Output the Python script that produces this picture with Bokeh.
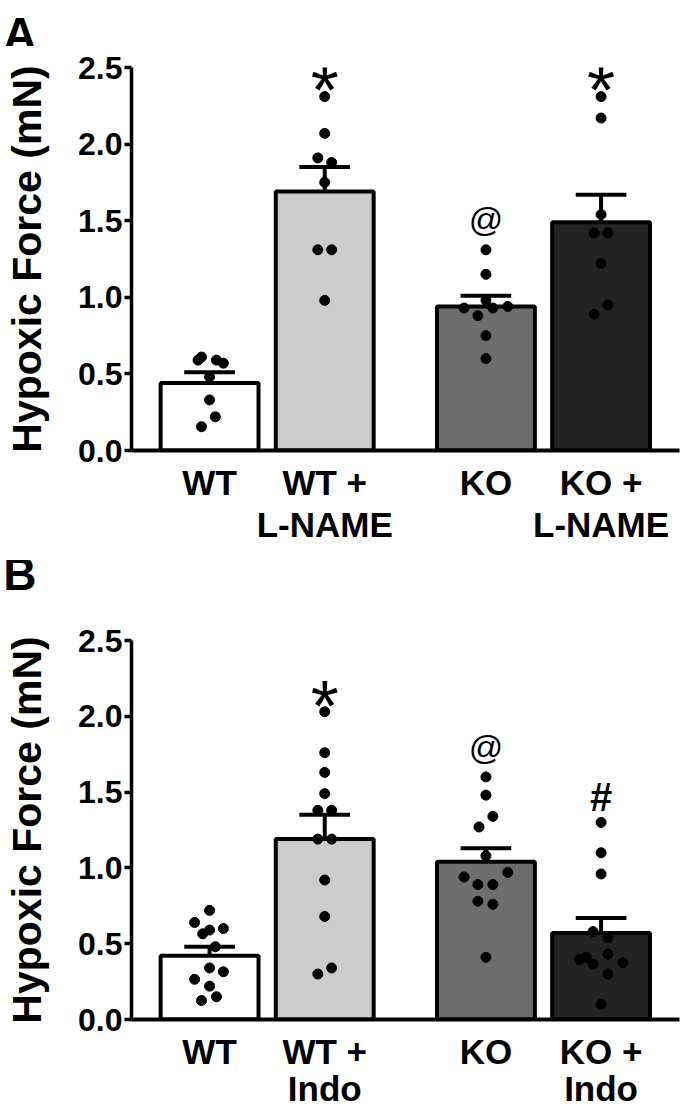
from bokeh.plotting import figure
from bokeh.layouts import column
from bokeh.models import Range1d, FixedTicker, PrintfTickFormatter
from bokeh.embed import file_html
from bokeh.resources import INLINE
from bokeh.core.properties import value

# ---------------- data ----------------
labels_A = ["WT", "WT +\nL-NAME", "KO", "KO +\nL-NAME"]
labels_B = ["WT", "WT +\nIndo", "KO", "KO +\nIndo"]
bar_colors = ["#ffffff", "#cccccc", "#6e6e6e", "#232323"]

mean_A = [0.44, 1.69, 0.94, 1.49]
sem_A = [0.07, 0.16, 0.07, 0.18]
mean_B = [0.42, 1.19, 1.04, 0.57]
sem_B = [0.06, 0.16, 0.09, 0.10]

pts_A = [
    [0.59, 0.61, 0.59, 0.57, 0.48, 0.33, 0.22, 0.155],
    [2.31, 2.07, 1.91, 1.88, 1.75, 1.31, 1.31, 0.98],
    [1.31, 1.15, 0.98, 0.93, 0.93, 0.94, 0.88, 0.75, 0.60],
    [2.31, 2.17, 1.54, 1.42, 1.42, 1.22, 0.89, 0.95],
]
jit_A = [
    [-0.10, -0.07, 0.06, 0.12, 0.0, 0.0, 0.05, -0.07],
    [0.0, 0.0, -0.06, 0.06, 0.0, -0.06, 0.06, 0.0],
    [0.0, 0.0, 0.0, -0.19, 0.06, 0.19, -0.07, 0.0, 0.0],
    [0.0, 0.0, 0.0, -0.06, 0.06, 0.0, -0.06, 0.06],
]
pts_B = [
    [0.72, 0.64, 0.59, 0.60, 0.565, 0.48, 0.34, 0.265, 0.315, 0.22, 0.15, 0.125],
    [2.03, 1.76, 1.63, 1.49, 1.38, 1.38, 1.19, 1.19, 0.92, 0.68, 0.34, 0.30],
    [1.60, 1.48, 1.34, 1.27, 1.08, 0.97, 0.94, 0.89, 0.89, 0.78, 0.76, 0.41],
    [1.30, 1.10, 0.96, 0.58, 0.54, 0.43, 0.395, 0.41, 0.365, 0.375, 0.30, 0.10],
]
jit_B = [
    [0.0, -0.13, 0.0, 0.12, -0.06, 0.05, 0.0, -0.13, 0.12, 0.0, 0.06, -0.07],
    [0.0, 0.0, 0.0, 0.0, -0.06, 0.06, -0.06, 0.06, 0.0, 0.0, 0.06, -0.06],
    [0.0, 0.0, 0.06, -0.06, 0.0, 0.19, -0.19, -0.07, 0.06, -0.07, 0.06, 0.0],
    [0.0, 0.0, 0.0, -0.07, 0.06, 0.06, -0.19, -0.13, -0.07, 0.19, 0.06, 0.0],
]
sig_A = ["", "*", "@", "*"]
sig_B = ["", "*", "@", "#"]

x_pos = [1.0, 2.0, 3.4, 4.4]
y_ticks = [0.0, 0.5, 1.0, 1.5, 2.0, 2.5]

FONT = "Liberation Sans"
SIG_STYLE = {"*": ("72px", "normal", 0.04),
             "@": ("34px", "normal", 0.20),
             "#": ("40px", "bold", 0.17)}

FRAME_H = 383
W = 680
LEFT = 127


def make_header(letter, height, center_from_top):
    # panel letter drawn as the single tick label of an otherwise invisible left axis
    h = figure(width=W, height=height, x_range=Range1d(0, 1), y_range=Range1d(0, height),
               output_backend="svg", toolbar_location=None, x_axis_type=None,
               min_border_left=LEFT, min_border_right=1, min_border_top=0, min_border_bottom=0)
    h.outline_line_color = None
    h.xgrid.grid_line_color = None
    h.ygrid.grid_line_color = None
    tick = height - center_from_top
    h.yaxis.ticker = FixedTicker(ticks=[tick])
    h.yaxis.major_label_overrides = {tick: letter}
    h.yaxis.axis_line_color = None
    h.yaxis.major_tick_line_color = None
    h.yaxis.minor_tick_line_color = None
    h.yaxis.major_tick_out = 0
    h.yaxis.major_tick_in = 0
    h.yaxis.major_label_standoff = 95
    h.yaxis.major_label_text_font = FONT
    h.yaxis.major_label_text_font_style = "bold"
    h.yaxis.major_label_text_font_size = "46px"
    h.yaxis.major_label_text_color = "black"
    return h


def make_panel(labels, means, sems, pts, jit, sig, height, top_border, label_line_height):
    p = figure(width=W, height=height,
               x_range=Range1d(0.322, 5.081), y_range=Range1d(0, 2.5),
               output_backend="svg", toolbar_location=None,
               min_border_left=LEFT, min_border_right=1,
               min_border_top=top_border, min_border_bottom=height - top_border - FRAME_H)
    p.outline_line_color = None
    p.xgrid.grid_line_color = None
    p.ygrid.grid_line_color = None

    p.vbar(x=x_pos, top=means, bottom=0, width=0.85, fill_color=bar_colors,
           line_color="black", line_width=4)
    tops = [m + s for m, s in zip(means, sems)]
    p.segment(x0=x_pos, y0=means, x1=x_pos, y1=tops, line_color="black", line_width=4)
    p.segment(x0=[x - 0.22 for x in x_pos], y0=tops, x1=[x + 0.22 for x in x_pos], y1=tops,
              line_color="black", line_width=4)

    xs, ys = [], []
    for x, vals, js in zip(x_pos, pts, jit):
        for v, j in zip(vals, js):
            xs.append(x + j)
            ys.append(v)
    p.scatter(xs, ys, size=10, fill_color="black", line_color="black")

    for x, vals, s in zip(x_pos, pts, sig):
        if not s:
            continue
        size, style, pad = SIG_STYLE[s]
        p.text(x=[x], y=[max(vals) + pad], text=[s], text_align="center",
               text_baseline="middle", text_font=value(FONT),
               text_font_size=size, text_font_style=style, text_color="black")

    # y axis
    p.yaxis.ticker = FixedTicker(ticks=y_ticks)
    p.yaxis.formatter = PrintfTickFormatter(format="%.1f")
    p.yaxis.minor_tick_line_color = None
    p.yaxis.axis_line_width = 3.5
    p.yaxis.major_tick_line_width = 3.5
    p.yaxis.major_tick_out = 7
    p.yaxis.major_tick_in = 0
    p.yaxis.major_label_standoff = 2
    p.yaxis.major_label_text_font = FONT
    p.yaxis.major_label_text_font_style = "bold"
    p.yaxis.major_label_text_font_size = "32px"
    p.yaxis.major_label_text_color = "black"
    p.yaxis.axis_label = "Hypoxic Force (mN)"
    p.yaxis.axis_label_text_font = FONT
    p.yaxis.axis_label_text_font_style = "bold"
    p.yaxis.axis_label_text_font_size = "41px"
    p.yaxis.axis_label_text_color = "black"
    p.yaxis.axis_label_standoff = 25

    # x axis
    p.xaxis.ticker = FixedTicker(ticks=x_pos)
    p.xaxis.major_label_overrides = {x: l for x, l in zip(x_pos, labels)}
    p.xaxis.major_tick_line_color = None
    p.xaxis.minor_tick_line_color = None
    p.xaxis.axis_line_width = 4
    p.xaxis.major_label_standoff = 6
    p.xaxis.major_label_text_font = FONT
    p.xaxis.major_label_text_font_style = "bold"
    p.xaxis.major_label_text_font_size = "35px"
    p.xaxis.major_label_text_line_height = label_line_height
    p.xaxis.major_label_text_color = "black"
    return p


hA = make_header("A", 46, 19)
pA = make_panel(labels_A, mean_A, sem_A, pts_A, jit_A, sig_A, 514, 21, 1.08)
hB = make_header("B", 46, 27)
pB = make_panel(labels_B, mean_B, sem_B, pts_B, jit_B, sig_B, 504, 34, 0.95)

layout = column(hA, pA, hB, pB, spacing=0)
open("out.html", "w").write(file_html(layout, INLINE))
